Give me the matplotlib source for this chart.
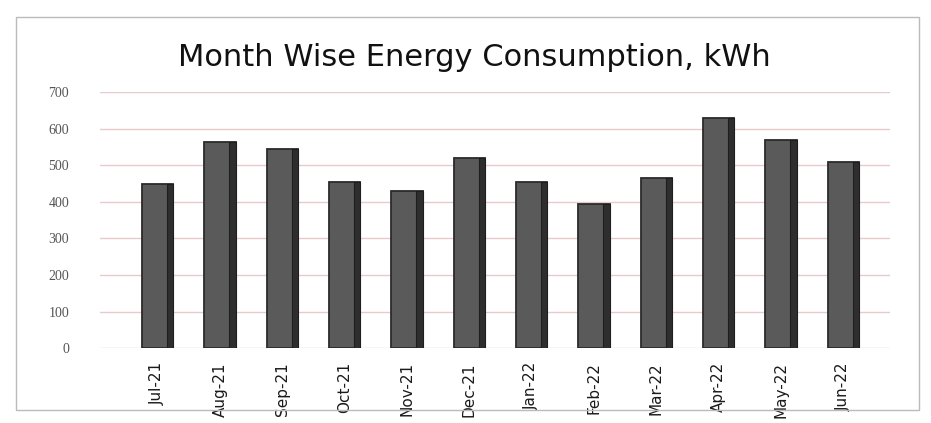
import matplotlib.pyplot as plt
import numpy as np

months = ["Jul-21", "Aug-21", "Sep-21", "Oct-21", "Nov-21", "Dec-21",
          "Jan-22", "Feb-22", "Mar-22", "Apr-22", "May-22", "Jun-22"]
energy_kwh = [450, 565, 545, 455, 430, 520, 455, 395, 465, 630, 570, 510]
y_ticks = [0, 100, 200, 300, 400, 500, 600, 700]

fig = plt.figure(figsize=(9.31, 4.23), dpi=100)
fig.patch.set_facecolor("white")
ax = fig.add_axes([0.107, 0.177, 0.849, 0.605])

x = np.arange(len(months))
width = 0.5

# grid lines behind the bars
for v in y_ticks:
    ax.axhline(v, color="#e8c9cc", lw=1.0, zorder=0)

# front face plus a darker side face for the 3d look
ax.bar(x, energy_kwh, width=width, color="#5a5a5a", edgecolor="#2b2b2b",
       linewidth=1.3, zorder=3)
ax.bar(x + width / 2 - 0.05, energy_kwh, width=0.1, color="#2e2e2e",
       edgecolor="#1e1e1e", linewidth=0.8, zorder=4)

ax.set_xlim(-0.93, 11.75)
ax.set_ylim(0, 700)
ax.set_yticks(y_ticks)
ax.set_yticklabels([str(v) for v in y_ticks], fontsize=10,
                   color="#555555", family="Liberation Serif")
ax.set_xticks(x)
ax.set_xticklabels(months, rotation=90, fontsize=11, color="#1a1a1a",
                   family="Liberation Sans Narrow")
ax.tick_params(axis="both", length=0)
ax.tick_params(axis="y", pad=22)
ax.tick_params(axis="x", pad=10)
for s in ax.spines.values():
    s.set_visible(False)

fig.text(0.51, 0.865, "Month Wise Energy Consumption, kWh", ha="center",
         va="center", fontsize=22, color="#111111", family="DejaVu Sans")

# outer chart frame
fig.patches.append(plt.Rectangle((0.017, 0.03), 0.97, 0.93,
                                 transform=fig.transFigure, fill=False,
                                 edgecolor="#bbbbbb", lw=1))

fig.savefig("out.png", dpi=100)
